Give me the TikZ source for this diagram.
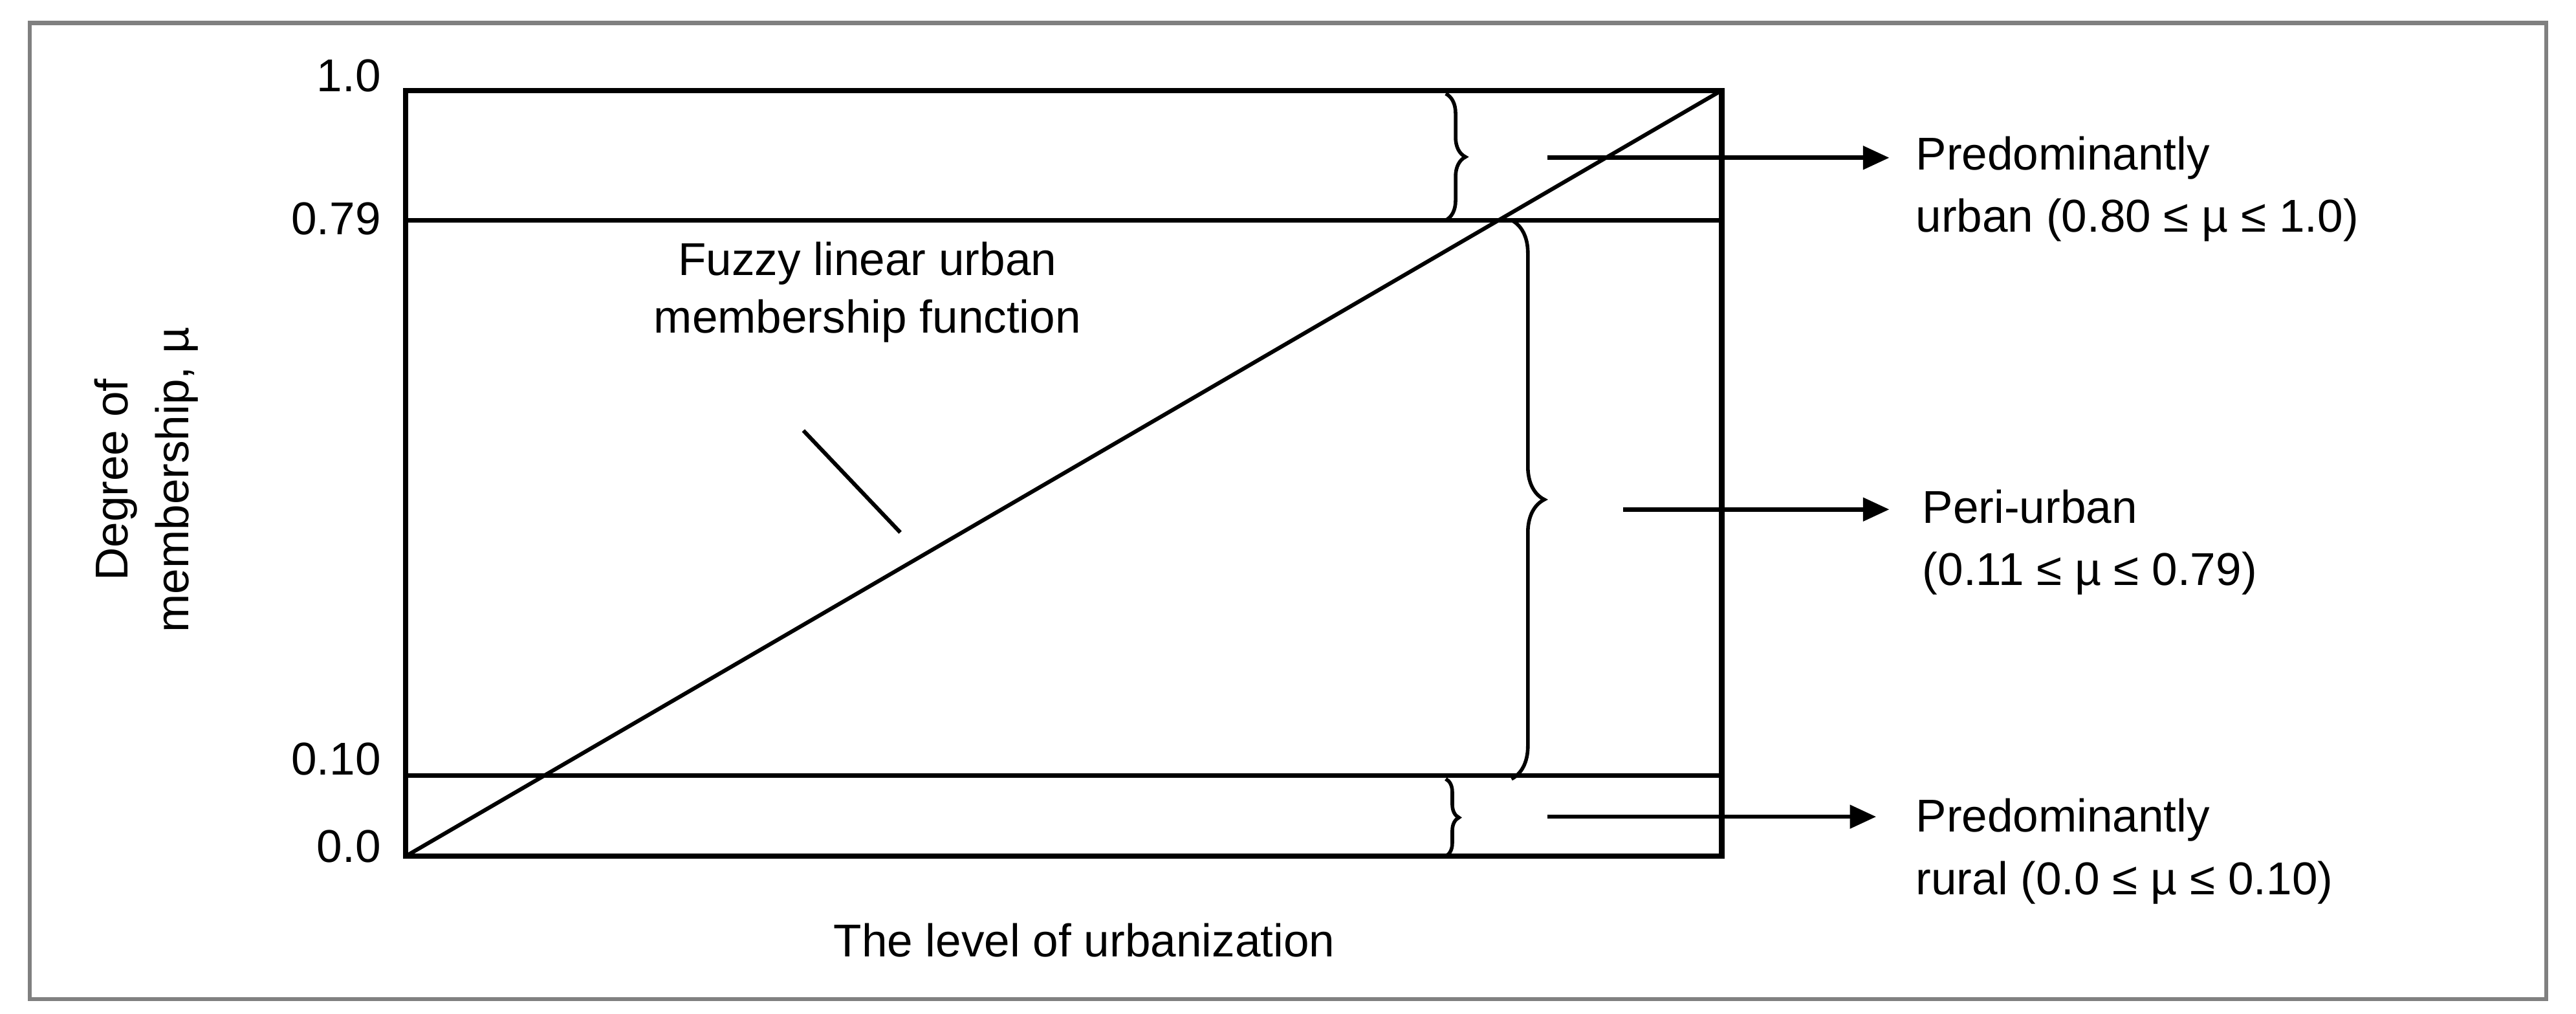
\documentclass[tikz,border=0pt]{standalone}
\usepackage{fontspec}
\setmainfont{Liberation Sans}
\usetikzlibrary{decorations.pathreplacing,arrows.meta}
\begin{document}
\begin{tikzpicture}[x=1pt,y=-1pt,
  lbl/.style={font=\fontsize{28}{33}\selectfont,inner sep=0pt},
  br/.style={line width=2.2pt,decorate,decoration={brace,amplitude=#1}},
  ar/.style={line width=2.6pt,-{Triangle[length=16pt,width=14pt]}}]
\useasboundingbox (0,0) rectangle (1568,617);
\draw[gray,line width=2.4pt] (18,14) rectangle (1550,608);
\draw[line width=3.2pt] (247,55) rectangle (1048,521);
\draw[line width=2.6pt] (247,134) -- (1048,134);
\draw[line width=2.6pt] (247,472) -- (1048,472);
\coordinate (o) at (247,521); \coordinate (t) at (1048,55);
\draw[line width=2.4pt] (o) -- (t);
\node[lbl,anchor=east] (l1) at (232,46) {1.0};
\node[lbl,anchor=east] (l79) at (232,133) {0.79};
\node[lbl,anchor=east] (l10) at (232,462) {0.10};
\node[lbl,anchor=east] (l0) at (232,515) {0.0};
\node[lbl,rotate=90,align=center] (yl) at (89,292) {Degree of\\[4pt]membership, µ};
\node[lbl] (xl) at (660,572) {The level of urbanization};
\node[lbl,align=center] (fz) at (528,178) {Fuzzy linear urban\\[2pt]membership function};
\coordinate (f1) at (489,262); \coordinate (f2) at (548,324);
\draw[line width=2.4pt] (f1) -- (f2);
\coordinate (b1a) at (880,57); \coordinate (b1b) at (880,134);
\draw[br=12pt] (b1a) -- (b1b);
\coordinate (b2a) at (920,134); \coordinate (b2b) at (920,474);
\draw[br=20pt] (b2a) -- (b2b);
\coordinate (b3a) at (880,474); \coordinate (b3b) at (880,521);
\draw[br=8pt] (b3a) -- (b3b);
\node[lbl,anchor=west,align=left] (t1) at (1166,115) {Predominantly\\[5pt]urban (0.80 ≤ µ ≤ 1.0)};
\node[lbl,anchor=west,align=left] (t2) at (1170,330) {Peri-urban\\[5pt](0.11 ≤ µ ≤ 0.79)};
\node[lbl,anchor=west,align=left] (t3) at (1166,518) {Predominantly\\[5pt]rural (0.0 ≤ µ ≤ 0.10)};
\coordinate (a1) at (942,96); \coordinate (a2) at (988,310); \coordinate (a3) at (942,497);
\draw[ar] (a1) -- ([xshift=-16pt]a1 -| t1.west);
\draw[ar] (a2) -- ([xshift=-20pt]a2 -| t2.west);
\draw[ar] (a3) -- ([xshift=-24pt]a3 -| t3.west);
\end{tikzpicture}
\end{document}
